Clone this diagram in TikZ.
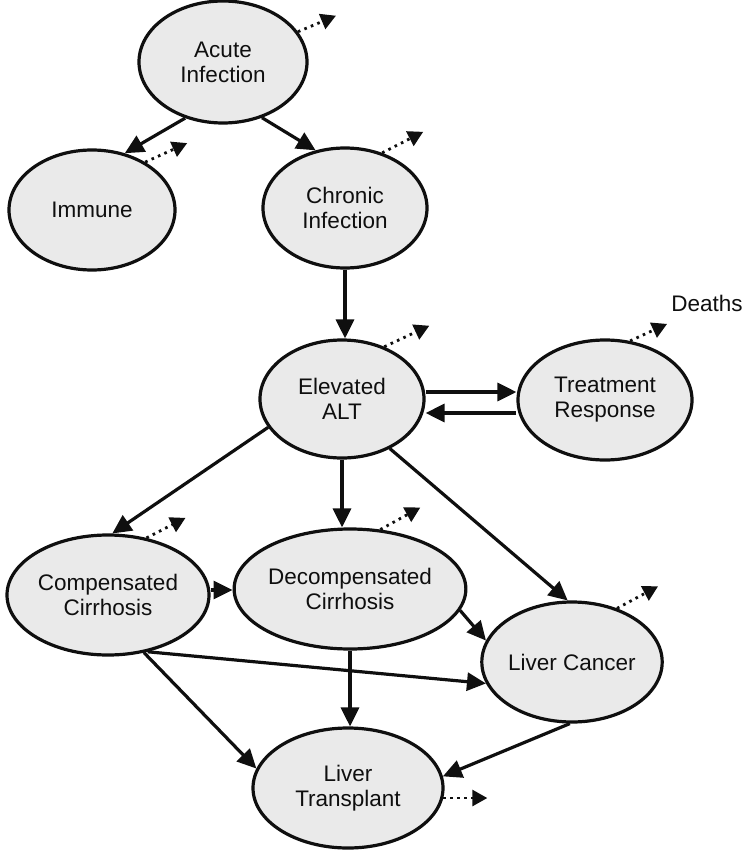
\documentclass[tikz,border=0pt]{standalone}
\usepackage{fontspec}
\setmainfont{Liberation Sans}
\usetikzlibrary{arrows.meta,shapes.geometric}
\definecolor{statefill}{RGB}{234,234,234}
\definecolor{inkcol}{RGB}{15,15,15}
\tikzset{
  state/.style={ellipse, draw=inkcol, line width=3.2pt, fill=statefill, inner sep=0pt,
    align=center, text=inkcol, font=\fontsize{22.5}{25}\selectfont},
  flow/.style={draw=inkcol, line width=3.2pt, -{Triangle[length=19pt,width=18pt]}},
  death/.style={draw=inkcol, line width=2.8pt, dash pattern=on 2.6pt off 4.4pt,
    -{Triangle[length=15pt,width=16pt]}},
  lbl/.style={text=inkcol, font=\fontsize{22.5}{25}\selectfont, inner sep=0pt}
}
\begin{document}
\begin{tikzpicture}[x=1pt,y=-1pt]
\useasboundingbox (0,0) rectangle (749,853);
% states
\node[state, minimum width=168pt, minimum height=122pt] (acute) at (223,62) {Acute\\Infection};
\node[state, minimum width=166pt, minimum height=120pt] (immune) at (92,210) {Immune};
\node[state, minimum width=164pt, minimum height=120pt] (chronic) at (345,208) {Chronic\\Infection};
\node[state, minimum width=164pt, minimum height=118pt] (elev) at (342,399) {Elevated\\ALT};
\node[state, minimum width=174pt, minimum height=120pt] (treat) at (605,400) {Treatment\\Response};
\node[state, minimum width=202pt, minimum height=120pt] (comp) at (108,595) {Compensated\\Cirrhosis};
\node[state, minimum width=200pt, minimum height=120pt] (decomp) at (350,589) {Decompensated\\Cirrhosis};
\node[state, minimum width=166pt, minimum height=120pt] (cancer) at (572,662) {Liver Cancer};
\node[state, minimum width=190pt, minimum height=120pt] (trans) at (348,788) {Liver\\Transplant};
\node[lbl] (deaths) at (707,303) {Deaths};
% transitions
\draw[flow] (acute.236) -- (immune.60);
\draw[flow] (acute.305) -- (chronic.117);
\draw[flow] (chronic.south) -- (chronic.south |- elev.north);
\draw[flow] ([yshift=7pt]elev.east) -- ([yshift=7pt]elev.east -| treat.west);
\draw[flow] ([yshift=-13pt]treat.west) -- ([yshift=-13pt]treat.west -| elev.east);
\draw[flow] (elev.201) -- (comp.86);
\draw[flow] (elev.south) -- (elev.south |- decomp.north);
\draw[flow] (elev.314) -- (cancer.94);
\draw[flow] ([yshift=5pt]comp.east) -- ([yshift=5pt]comp.east -| decomp.west);
\draw[flow] (decomp.349) -- (cancer.166);
\draw[flow] (comp.305) -- (cancer.194);
\draw[flow] (comp.302) -- (trans.168);
\draw[flow] (decomp.south) -- (decomp.south |- trans.north);
\draw[flow] (cancer.268) -- (trans.7);
% deaths
\draw[death] (acute.22) -- +(38,-16);
\draw[death] (immune.42) -- +(42,-19);
\draw[death] (chronic.56) -- +(41,-21);
\draw[death] (elev.51) -- +(45,-21);
\draw[death] (treat.67) -- +(37,-17);
\draw[death] (comp.56) -- +(39,-20);
\draw[death] (decomp.63) -- +(40,-22);
\draw[death] (cancer.50) -- +(41,-22);
\draw[death] (trans.354) -- +(44,0);
\end{tikzpicture}
\end{document}
